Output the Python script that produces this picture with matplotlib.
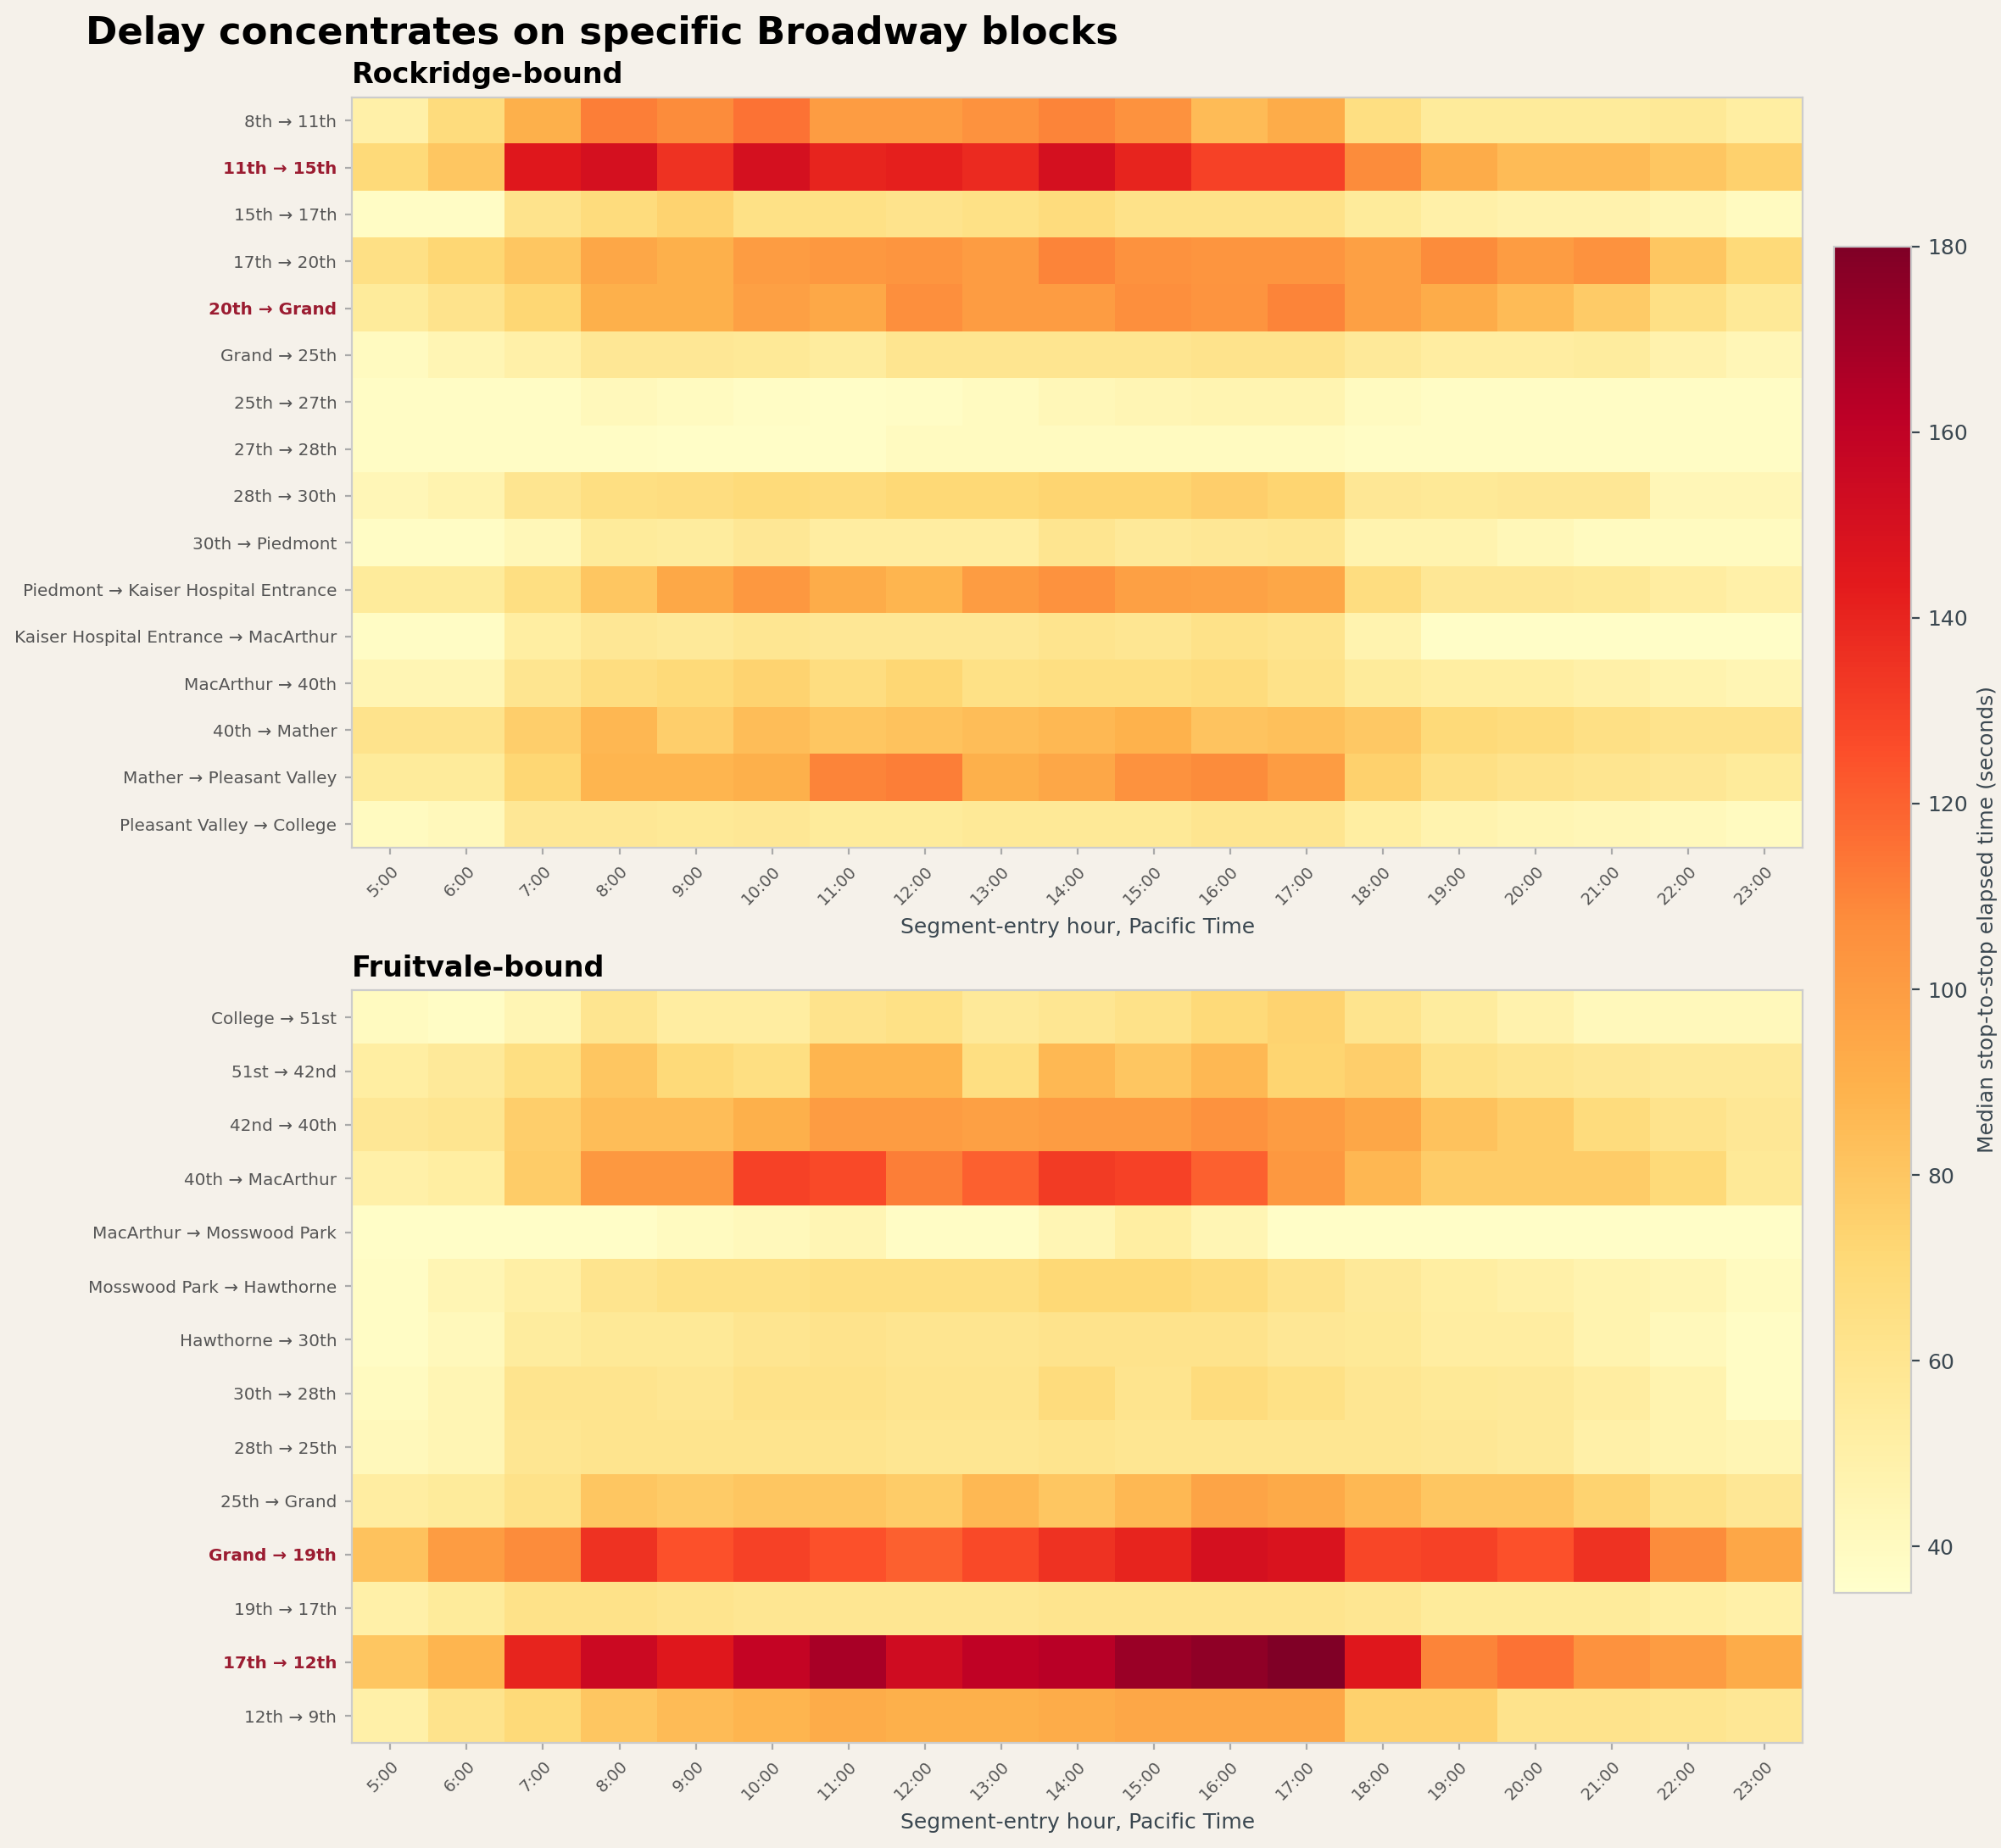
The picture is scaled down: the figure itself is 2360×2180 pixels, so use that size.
import matplotlib
matplotlib.use("Agg")
import matplotlib.pyplot as plt
import numpy as np

hours = [f"{h}:00" for h in range(5, 24)]

north_segments = ["8th → 11th", "11th → 15th", "15th → 17th", "17th → 20th", "20th → Grand",
                  "Grand → 25th", "25th → 27th", "27th → 28th", "28th → 30th", "30th → Piedmont",
                  "Piedmont → Kaiser Hospital Entrance", "Kaiser Hospital Entrance → MacArthur",
                  "MacArthur → 40th", "40th → Mather", "Mather → Pleasant Valley",
                  "Pleasant Valley → College"]
north_values = [
    [50,68,90,112,108,115,100,100,105,110,105,85,92,66,55,55,55,57,52],
    [70,80,145,150,135,150,140,142,138,150,140,130,130,108,92,85,85,80,75],
    [38,38,62,68,74,64,64,62,64,68,63,63,63,55,50,48,48,45,40],
    [65,72,80,95,90,100,102,103,100,110,105,103,103,98,108,100,105,80,70],
    [55,62,72,90,90,98,94,106,100,100,106,104,110,98,92,85,78,65,57],
    [40,45,50,58,58,57,54,60,60,60,60,62,62,56,53,53,54,48,44],
    [38,38,38,42,40,38,37,38,40,43,45,46,46,40,38,38,38,38,38],
    [38,38,38,38,37,37,37,40,40,40,40,40,40,38,38,38,38,38,38],
    [44,47,60,66,67,69,68,71,71,73,73,76,73,58,57,58,58,44,44],
    [38,38,43,55,54,58,53,53,53,60,56,58,59,47,47,43,40,40,40],
    [55,55,66,80,94,102,92,88,100,105,98,97,95,67,58,58,57,53,50],
    [38,38,52,58,56,59,58,58,58,61,59,63,61,47,37,37,37,37,37],
    [45,45,60,67,70,74,67,72,64,66,66,68,63,55,52,52,50,47,45],
    [62,62,76,87,76,84,80,82,84,86,89,81,83,79,70,68,65,62,62],
    [55,55,72,88,88,90,110,112,90,95,105,108,100,75,65,62,60,58,55],
    [40,42,58,58,57,58,55,55,57,57,57,60,60,52,47,45,44,42,40],
]
north_highlight = ["11th → 15th", "20th → Grand"]

south_segments = ["College → 51st", "51st → 42nd", "42nd → 40th", "40th → MacArthur",
                  "MacArthur → Mosswood Park", "Mosswood Park → Hawthorne", "Hawthorne → 30th",
                  "30th → 28th", "28th → 25th", "25th → Grand", "Grand → 19th", "19th → 17th",
                  "17th → 12th", "12th → 9th"]
south_values = [
    [40,38,45,60,53,53,62,64,56,59,63,70,74,61,54,48,42,42,42],
    [52,56,66,80,70,66,88,88,66,86,80,86,73,76,63,60,58,56,56],
    [58,60,76,84,84,90,100,100,98,100,100,105,100,95,82,77,68,62,58],
    [50,52,77,102,102,130,127,112,120,132,130,120,102,87,77,77,77,70,57],
    [37,37,37,37,40,42,45,38,38,45,52,45,37,37,37,37,37,37,37],
    [38,45,51,61,64,64,66,66,66,71,71,68,62,56,52,50,47,45,40],
    [38,42,54,57,57,60,62,60,60,62,62,62,58,57,53,53,47,42,38],
    [40,45,61,61,59,63,63,61,61,68,61,68,64,59,57,56,53,47,38],
    [42,45,59,61,61,61,61,59,59,61,59,59,59,59,58,56,50,47,45],
    [53,55,63,80,78,80,80,77,86,80,86,96,93,86,80,80,74,63,58],
    [82,100,108,135,125,130,125,120,127,135,140,150,148,128,130,125,135,108,95],
    [50,55,63,63,61,59,59,59,59,61,61,61,61,59,55,55,55,52,50],
    [80,88,140,155,145,158,168,153,160,163,172,175,180,145,110,115,105,100,92],
    [50,62,70,80,85,88,92,90,90,92,95,95,95,75,75,62,62,60,58],
]
south_highlight = ["Grand → 19th", "17th → 12th"]

BG = "#f5f1ea"
VMIN, VMAX = 35, 180
fig = plt.figure(figsize=(11.8, 10.9), dpi=200, facecolor=BG)
fig.text(0.043, 0.982, "Delay concentrates on specific Broadway blocks", fontsize=16.2,
         fontweight="bold", va="center", ha="left")

def draw(ax, title, segs, vals, hl):
    ax.set_facecolor(BG)
    im = ax.imshow(np.array(vals), cmap="YlOrRd", vmin=VMIN, vmax=VMAX, aspect="auto",
                   interpolation="nearest")
    ax.set_xticks(range(len(hours)))
    ax.set_xticklabels(hours, rotation=45, ha="right", rotation_mode="anchor", fontsize=7, color="#555555")
    ax.set_yticks(range(len(segs)))
    ax.set_yticklabels(segs, fontsize=7.2, color="#555555")
    for lab in ax.get_yticklabels():
        if lab.get_text() in hl:
            lab.set_color("#9b1c31"); lab.set_fontweight("bold")
    ax.tick_params(length=3, color="#aaaaaa")
    for s in ax.spines.values():
        s.set_color("#cccccc")
    ax.set_xlabel("Segment-entry hour, Pacific Time", fontsize=9, color="#3a4750")
    ax.set_title(title, loc="left", fontsize=12, fontweight="bold")
    return im

ax1 = fig.add_axes([0.176, 0.5414, 0.725, 0.406])
draw(ax1, "Rockridge-bound", north_segments, north_values, north_highlight)
ax2 = fig.add_axes([0.176, 0.057, 0.725, 0.407])
im = draw(ax2, "Fruitvale-bound", south_segments, south_values, south_highlight)

cax = fig.add_axes([0.9165, 0.138, 0.0385, 0.7287])
cb = fig.colorbar(im, cax=cax)
cb.set_label("Median stop-to-stop elapsed time (seconds)", fontsize=9, color="#3a4750")
cb.ax.tick_params(labelsize=9, colors="#3a4750")
cb.outline.set_edgecolor("#cccccc")

fig.savefig("out.png", dpi=200, facecolor=BG)
